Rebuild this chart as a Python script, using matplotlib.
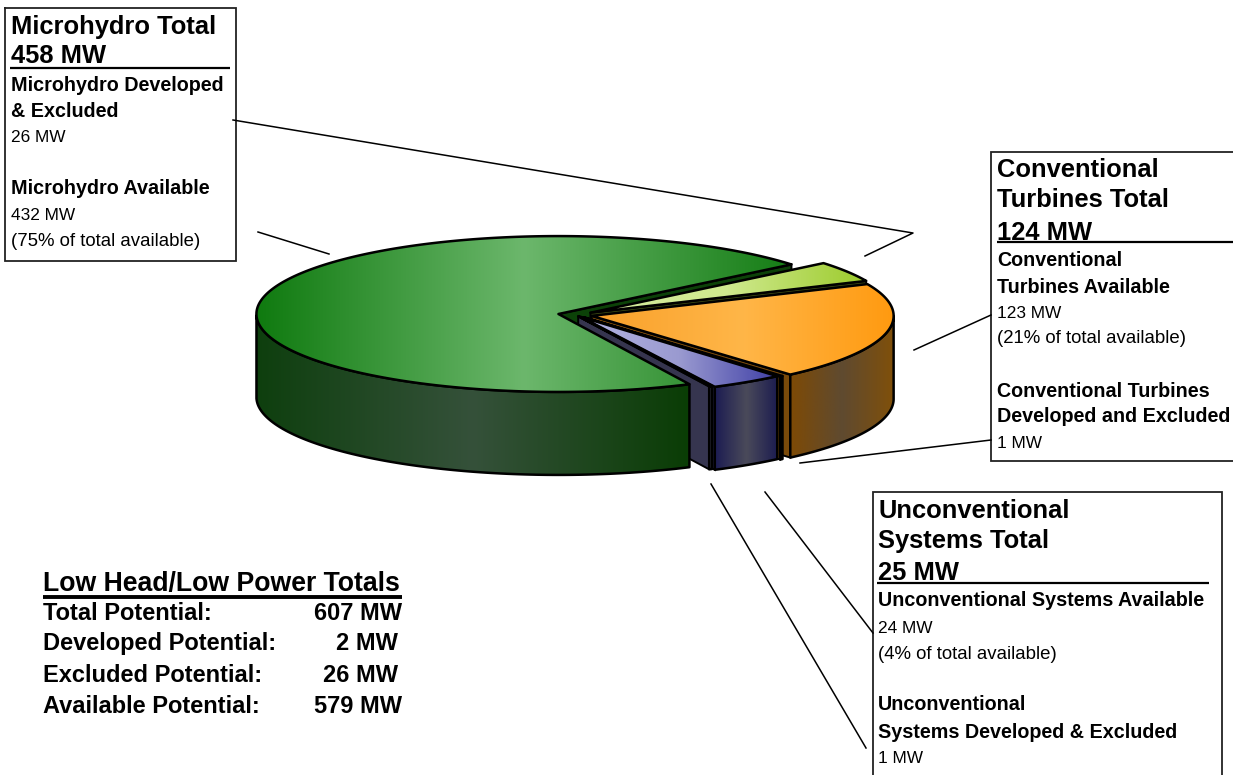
import numpy as np
import matplotlib
matplotlib.use("Agg")
import matplotlib.pyplot as plt
from matplotlib.patches import Polygon
from matplotlib.colors import LinearSegmentedColormap

plt.rcParams['font.family'] = ['Liberation Sans', 'DejaVu Sans']

# ---- data (clockwise order)
categories = ["Microhydro Developed & Excluded", "Conventional Turbines Available",
              "Conventional Turbines Developed and Excluded", "Unconventional Systems Available",
              "Unconventional Systems Developed & Excluded", "Microhydro Available"]
values_mw = [26, 123, 1, 24, 1, 432]

micro_lines = [("Microhydro Total", "h"), ("458 MW", "h"), ("Microhydro Developed", "b"), ("& Excluded", "b"),
               ("26 MW", "r"), ("Microhydro Available", "b"), ("432 MW", "r"), ("(75% of total available)", "p")]
conv_lines = [("Conventional", "h"), ("Turbines Total", "h"), ("124 MW", "h"), ("Conventional", "b"),
              ("Turbines Available", "b"), ("123 MW", "r"), ("(21% of total available)", "p"),
              ("Conventional Turbines", "b"), ("Developed and Excluded", "b"), ("1 MW", "r")]
unconv_lines = [("Unconventional", "h"), ("Systems Total", "h"), ("25 MW", "h"),
                ("Unconventional Systems Available", "b"), ("24 MW", "r"), ("(4% of total available)", "p"),
                ("Unconventional", "b"), ("Systems Developed & Excluded", "b"), ("1 MW", "r")]
totals_title = "Low Head/Low Power Totals"
totals_names = ["Total Potential:", "Developed Potential:", "Excluded Potential:", "Available Potential:"]
totals_vals = ["607 MW", "2 MW", "26 MW", "579 MW"]

# ---- layout / style
W, H = 1233, 775
fig = plt.figure(figsize=(W / 100, H / 100), dpi=100, facecolor="white")
ax = fig.add_axes([0, 0, 1, 1])
CX, CY, R, K, DEPTH = 576, 315, 302, 0.258, 83
START = 39.5
explode = [17, 16, 12, 9, 5, 18]

tops = [["#d6eda0", "#cfe98e", "#9ccb2c"],
        ["#f9a02a", "#ffb648", "#ff9a10"],
        ["#8a5510", "#7a4a0a", "#7a4a0a"],
        ["#b4b4e2", "#9a9ad0", "#3f3fa6"],
        ["#3a3a58", "#3a3a58", "#3a3a58"],
        ["#0f7a0f", "#6cb76c", "#157d15"]]
walls = [["#55661c", "#55661c", "#55661c"],
         ["#7e4a05", "#5f4a30", "#80500a"],
         ["#6e4406", "#6e4406", "#6e4406"],
         ["#1c1c52", "#4a4a5a", "#1c1c50"],
         ["#34344e", "#56566a", "#34344e"],
         ["#0e3f0e", "#35513a", "#0a3d05"]]
faces = ["#3c4a12", "#7a4a0a", "#6e4406", "#30305a", "#36354f", "#0c4208"]

def pt(a, ox, oy, r=R):
    a = np.radians(a)
    return ox + r * np.cos(a), oy - r * K * np.sin(a)

def shade(poly, stops, x0, x1, mid=0.5, z=2):
    cmap = LinearSegmentedColormap.from_list("g", [(0, stops[0]), (mid, stops[1]), (1, stops[2])])
    ys, ye = poly[:, 1].min(), poly[:, 1].max()
    im = ax.imshow(np.linspace(0, 1, 256)[None, :], cmap=cmap, extent=[x0, x1, ye, ys],
                   aspect="auto", zorder=z, interpolation="bilinear")
    patch = Polygon(poly, closed=True, transform=ax.transData, fc="none", ec="none")
    ax.add_patch(patch)
    im.set_clip_path(patch)

def outline(poly, z=2, lw=1.8):
    ax.add_patch(Polygon(poly, closed=True, fc="none", ec="black", lw=lw, zorder=z, joinstyle="round"))

# slice angle spans, running clockwise from START
spans = np.array(values_mw) / sum(values_mw) * 360
hi = START - np.concatenate([[0], np.cumsum(spans)[:-1]])
lo = hi - spans

z = 2
def next_z():
    global z
    z += 1
    return z

def radial_face(i, ang, ox, oy):
    ex, ey = pt(ang, ox, oy)
    poly = np.array([[ox, oy], [ex, ey], [ex, ey + DEPTH], [ox, oy + DEPTH]])
    zz = next_z()
    ax.add_patch(Polygon(poly, closed=True, fc=faces[i], ec="black", lw=1.4, zorder=zz))

def wall(i, a_hi, a_lo, ox, oy):
    # visible outer wall: portion with sin(angle) < 0
    a = np.linspace(a_hi, a_lo, 240)
    a = a[np.sin(np.radians(a)) <= 0.0]
    if len(a) < 2:
        return
    xs, ys = pt(a, ox, oy)
    poly = np.column_stack([np.r_[xs, xs[::-1]], np.r_[ys, ys[::-1] + DEPTH]])
    zz = next_z()
    shade(poly, walls[i], xs.min(), xs.max(), z=zz)
    outline(poly, zz)

def top(i, a_hi, a_lo, ox, oy, x0=None, x1=None, mid=0.5):
    a = np.linspace(a_hi, a_lo, 400)
    xs, ys = pt(a, ox, oy)
    poly = np.column_stack([np.r_[ox, xs], np.r_[oy, ys]])
    zz = next_z()
    shade(poly, tops[i], poly[:, 0].min() if x0 is None else x0,
          poly[:, 0].max() if x1 is None else x1, mid=mid, z=zz)
    outline(poly, zz)

origins = []
for i in range(6):
    bis = np.radians((hi[i] + lo[i]) / 2)
    origins.append((CX + explode[i] * np.cos(bis), CY - explode[i] * K * np.sin(bis)))

GREEN = 5
# green's upper cut face sits behind everything else
radial_face(GREEN, START, *origins[GREEN])
for i in range(5):
    ox, oy = origins[i]
    if np.sin(np.radians(lo[i] - 90)) < 0:
        radial_face(i, lo[i], ox, oy)
    wall(i, hi[i], lo[i], ox, oy)
    top(i, hi[i], lo[i], ox, oy)
ox, oy = origins[GREEN]
wall(GREEN, hi[GREEN], lo[GREEN], ox, oy)
top(GREEN, hi[GREEN], lo[GREEN], ox, oy, mid=0.5)

# ---- boxes
BOX = "#222222"
def box_lines(pts):
    ax.plot(*zip(*pts), color=BOX, lw=1.3, zorder=40, solid_joinstyle="miter")

box_lines([(5, 8), (236, 8), (236, 261), (5, 261), (5, 8)])
box_lines([(1233, 152), (991, 152), (991, 461), (1233, 461)])
box_lines([(873, 775), (873, 492), (1222, 492), (1222, 775)])

# ---- leader lines
leaders = [[(233, 120), (913, 233), (865, 256)], [(258, 232), (329, 254)],
           [(914, 350), (991, 315)], [(800, 463), (991, 440)],
           [(765, 492), (873, 633)], [(711, 484), (866, 748)]]
for seg in leaders:
    ax.plot(*zip(*seg), color="black", lw=1.1, zorder=41)

# ---- text
SIZES = {"h": 18.4, "b": 14.2, "r": 12.4, "p": 13.4}
def draw_block(lines, x, baselines):
    for (txt, kind), y in zip(lines, baselines):
        ax.text(x, y, txt, fontsize=SIZES[kind], fontweight="normal" if kind in "rp" else "bold",
                va="baseline", ha="left", color="black", zorder=50)

draw_block(micro_lines, 11, [34, 63, 91, 117, 142, 194, 220, 246])
draw_block(conv_lines, 997, [177, 207, 240, 266, 293, 318, 343, 397, 422, 448])
draw_block(unconv_lines, 878, [518, 548, 580, 606, 633, 659, 710, 738, 763])

for seg, lw in [([(10, 68), (230, 68)], 1.6), ([(997, 242), (1233, 242)], 1.6),
                ([(877, 583), (1209, 583)], 1.6), ([(43, 597), (402, 597)], 2.8)]:
    ax.plot(*zip(*seg), color="black", lw=lw, zorder=51, solid_capstyle="butt")

ax.text(43, 591, totals_title, fontsize=19.2, fontweight="bold", va="baseline", zorder=50)
for name, val, y, xr in zip(totals_names, totals_vals, [620, 650, 682, 713], [402, 398, 398, 402]):
    ax.text(43, y, name, fontsize=17.0, fontweight="bold", va="baseline", zorder=50)
    ax.text(xr, y, val, fontsize=17.0, fontweight="bold", va="baseline", ha="right", zorder=50)

ax.set_xlim(0, W)
ax.set_ylim(H, 0)
ax.axis("off")
fig.savefig("out.png", dpi=100, facecolor="white")
